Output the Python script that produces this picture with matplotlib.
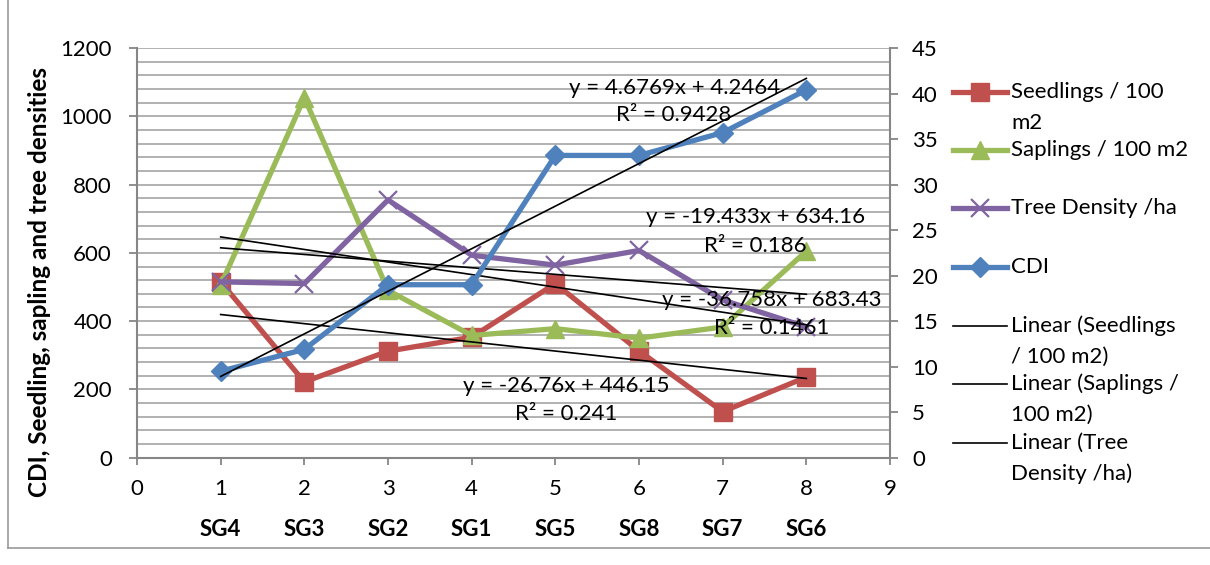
import matplotlib
matplotlib.use("Agg")
import matplotlib.pyplot as plt
from matplotlib.lines import Line2D
from matplotlib.transforms import blended_transform_factory
import numpy as np

plt.rcParams['font.family'] = ['Lato', 'DejaVu Sans']

# Sampling sites (ordered by position along the gradient)
sites = ['SG4', 'SG3', 'SG2', 'SG1', 'SG5', 'SG8', 'SG7', 'SG6']
xpos = [1, 2, 3, 4, 5, 6, 7, 8]

seedlings = [515, 222, 312, 353, 510, 313, 135, 236]
saplings = [505, 1055, 490, 358, 378, 350, 383, 605]
tree_density = [515, 510, 755, 593, 564, 607, 462, 383]
cdi = [9.5, 11.9, 19.0, 19.0, 33.2, 33.2, 35.7, 40.4]

# Linear trend fits: (slope, intercept, R^2)
fit_seedlings = (-26.76, 446.15, 0.241)
fit_saplings = (-36.758, 683.43, 0.1461)
fit_tree = (-19.433, 634.16, 0.186)
fit_cdi = (4.6769, 4.2464, 0.9428)

RED, GREEN, PURPLE, BLUE = '#C0504D', '#9BBB59', '#8064A2', '#4F81BD'
AXC = '#868686'
GRID = '#ABABAB'
FS = 16

W, H = 1210, 565
fig = plt.figure(figsize=(W / 100, H / 100), dpi=100)


def fx(px):
    return px / W


def fy(py):
    return 1 - py / H


ax = fig.add_axes([fx(137), fy(457.7), fx(890) - fx(137), fy(48) - fy(457.7)])
ax2 = ax.twinx()

ax.set_xlim(0, 9)
ax.set_ylim(0, 1200)
ax2.set_ylim(0, 45)
ax.set_xticks(range(0, 10))
ax.set_yticks(range(0, 1201, 200))
ax2.set_yticks(range(0, 46, 5))

# horizontal grid every 40 units
for g in range(40, 1201, 40):
    ax.axhline(g, color=GRID, lw=1.3, zorder=0)

for a in (ax, ax2):
    for s in a.spines.values():
        s.set_visible(False)
ax.spines['left'].set_visible(True)
ax.spines['bottom'].set_visible(True)
ax2.spines['right'].set_visible(True)
for s in (ax.spines['left'], ax.spines['bottom'], ax2.spines['right']):
    s.set_color(AXC)
    s.set_linewidth(1.5)

ax.tick_params(axis='y', length=6, width=1.3, color=AXC, pad=12, labelsize=FS)
ax.tick_params(axis='x', length=5, width=1.3, color=AXC, pad=10, labelsize=FS)
ax2.tick_params(axis='y', length=6, width=1.3, color=AXC, pad=10, labelsize=FS)

lw = 3.8
ax.plot(xpos, seedlings, color=RED, lw=lw, marker='s', ms=13, mfc=RED, mec=RED, zorder=3)
ax.plot(xpos, saplings, color=GREEN, lw=lw, marker='^', ms=13, mfc=GREEN, mec=GREEN, zorder=3)
ax.plot(xpos, tree_density, color=PURPLE, lw=lw, marker='x', ms=13, mew=1.6, mec=PURPLE, zorder=3)
ax2.plot(xpos, cdi, color=BLUE, lw=lw, marker='D', ms=10.5, mfc=BLUE, mec=BLUE, zorder=3)

# trend lines over the sampled range
xt = np.array([xpos[0], xpos[-1]], dtype=float)
for m, b, _ in (fit_seedlings, fit_saplings, fit_tree):
    ax.plot(xt, m * xt + b, color='black', lw=1.2, zorder=4)
ax2.plot(xt, fit_cdi[0] * xt + fit_cdi[1], color='black', lw=1.2, zorder=4)


def eq_label(fit, x, y1, y2):
    m, b, r2 = fit
    sign = '+' if b >= 0 else '-'
    ax2.text(x, y1, f'y = {m:g}x {sign} {abs(b):g}', transform=ax.transData,
             ha='center', va='center', fontsize=FS, zorder=6)
    ax2.text(x, y2, f'R² = {r2:g}', transform=ax.transData,
             ha='center', va='center', fontsize=FS, zorder=6)


eq_label(fit_cdi, 6.42, 1083, 1004)
eq_label(fit_tree, 7.39, 704, 619)
eq_label(fit_saplings, 7.59, 462, 380)
eq_label(fit_seedlings, 5.13, 210, 128)

# site names under the numeric x ticks
site_tf = blended_transform_factory(ax.transData, fig.transFigure)
for xi, name in zip(xpos, sites):
    ax.text(xi, fy(530), name, transform=site_tf,
            ha='center', va='center', fontsize=FS, fontweight='bold')

fig.text(fx(40), fy(282), 'CDI, Seedling, sapling and tree densities', rotation=90,
         ha='center', va='center', fontsize=17.5, fontweight='bold')


# legend
def leg_entry(py, lines, color=None, marker=None, ms=12, lwid=3.8, mew=None):
    x0, x1 = fx(953), fx(1007)
    fig.add_artist(Line2D([x0, x1], [fy(py), fy(py)], color=color, lw=lwid,
                          transform=fig.transFigure))
    if marker:
        kw = dict(marker=marker, ms=ms, color=color, mfc=color, mec=color, lw=0)
        if mew:
            kw['mew'] = mew
        fig.add_artist(Line2D([(x0 + x1) / 2], [fy(py)], transform=fig.transFigure, **kw))
    for i, t in enumerate(lines):
        fig.text(fx(1011), fy(py + 31 * i), t, ha='left', va='center', fontsize=FS)


leg_entry(92, ['Seedlings / 100', 'm2'], RED, 's', 13)
leg_entry(150, ['Saplings / 100 m2'], GREEN, '^', 13)
leg_entry(208, ['Tree Density /ha'], PURPLE, 'x', 13, mew=1.6)
leg_entry(267, ['CDI'], BLUE, 'D', 10.5)
leg_entry(326, ['Linear (Seedlings', '/ 100 m2)'], 'black', lwid=1.2)
leg_entry(384, ['Linear (Saplings /', '100 m2)'], 'black', lwid=1.2)
leg_entry(443, ['Linear (Tree', 'Density /ha)'], 'black', lwid=1.2)

# chart frame
fig.add_artist(Line2D([fx(8), fx(8)], [fy(0), fy(548)], color='#999999', lw=1.2,
                      transform=fig.transFigure))
fig.add_artist(Line2D([fx(8), fx(1210)], [fy(548), fy(548)], color='#999999', lw=1.2,
                      transform=fig.transFigure))

fig.savefig('out.png', dpi=100)
